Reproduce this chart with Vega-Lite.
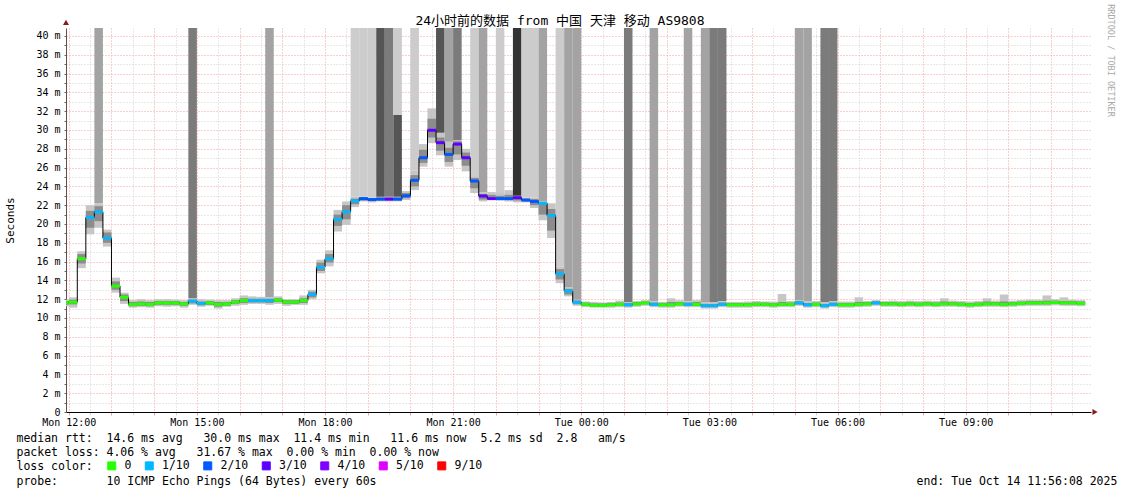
{
"$schema": "https://vega.github.io/schema/vega-lite/v6.json",
"width": 1025, "height": 384,
"autosize": {"type": "none"},
"padding": {"left": 66, "top": 28, "right": 30, "bottom": 82},
"background": "white",
"title": {"text": "24小时前的数据 from 中国 天津 移动 AS9808", "font": "DejaVu Sans Mono, Noto Sans CJK SC", "fontSize": 13, "fontWeight": "normal", "color": "black", "anchor": "middle", "frame": "group", "dx": -18.5, "offset": -34, "baseline": "alphabetic"},
"config": {"view": {"stroke": null}, "font": "DejaVu Sans Mono"},
"datasets": {
"steps": [
{"t":11.8,"t2":12.0,"med":11.6,"loss":"0","lo":11.25,"hi":11.95,"ilo":11.4,"ihi":11.8},
{"t":12.0,"t2":12.2,"med":11.7,"loss":"0","lo":11.1,"hi":12.2,"ilo":11.45,"ihi":11.95},
{"t":12.2,"t2":12.4,"med":16.3,"loss":"0","lo":15.3,"hi":17.1,"ilo":15.8,"ihi":16.8},
{"t":12.4,"t2":12.6,"med":20.7,"loss":"1/10","lo":18.9,"hi":22.0,"ilo":19.6,"ihi":21.4},
{"t":12.6,"t2":12.8,"med":21.3,"loss":"1/10","lo":19.6,"hi":22.2,"ilo":20.3,"ihi":21.9},
{"t":12.8,"t2":13.0,"med":18.5,"loss":"1/10","lo":17.6,"hi":19.4,"ilo":18.0,"ihi":19.1},
{"t":13.0,"t2":13.2,"med":13.4,"loss":"0","lo":12.7,"hi":14.3,"ilo":13.0,"ihi":13.9},
{"t":13.2,"t2":13.4,"med":12.2,"loss":"0","lo":11.5,"hi":12.7,"ilo":11.8,"ihi":12.5},
{"t":13.4,"t2":13.6,"med":11.45,"loss":"0","lo":11.1,"hi":11.9,"ilo":11.25,"ihi":11.7},
{"t":13.6,"t2":13.8,"med":11.5,"loss":"0","lo":11.15,"hi":12.0,"ilo":11.3,"ihi":11.75},
{"t":13.8,"t2":14.0,"med":11.45,"loss":"0","lo":11.1,"hi":11.9,"ilo":11.25,"ihi":11.7},
{"t":14.0,"t2":14.2,"med":11.6,"loss":"0","lo":11.25,"hi":12.0,"ilo":11.4,"ihi":11.8},
{"t":14.2,"t2":14.4,"med":11.6,"loss":"0","lo":11.2,"hi":12.0,"ilo":11.4,"ihi":11.8},
{"t":14.4,"t2":14.6,"med":11.6,"loss":"0","lo":11.25,"hi":11.95,"ilo":11.4,"ihi":11.8},
{"t":14.6,"t2":14.8,"med":11.5,"loss":"0","lo":11.1,"hi":11.9,"ilo":11.3,"ihi":11.7},
{"t":14.8,"t2":15.0,"med":11.8,"loss":"1/10","lo":11.4,"hi":12.1,"ilo":11.55,"ihi":11.95},
{"t":15.0,"t2":15.2,"med":11.55,"loss":"1/10","lo":11.2,"hi":12.0,"ilo":11.35,"ihi":11.75},
{"t":15.2,"t2":15.4,"med":11.6,"loss":"0","lo":11.3,"hi":11.95,"ilo":11.4,"ihi":11.8},
{"t":15.4,"t2":15.6,"med":11.45,"loss":"0","lo":11.0,"hi":11.9,"ilo":11.2,"ihi":11.7},
{"t":15.6,"t2":15.8,"med":11.5,"loss":"0","lo":11.2,"hi":11.9,"ilo":11.3,"ihi":11.7},
{"t":15.8,"t2":16.0,"med":11.7,"loss":"0","lo":11.3,"hi":12.1,"ilo":11.5,"ihi":11.9},
{"t":16.0,"t2":16.2,"med":11.85,"loss":"0","lo":11.4,"hi":12.4,"ilo":11.6,"ihi":12.1},
{"t":16.2,"t2":16.4,"med":11.85,"loss":"1/10","lo":11.5,"hi":12.3,"ilo":11.65,"ihi":12.05},
{"t":16.4,"t2":16.6,"med":11.85,"loss":"1/10","lo":11.5,"hi":12.25,"ilo":11.65,"ihi":12.05},
{"t":16.6,"t2":16.8,"med":11.85,"loss":"1/10","lo":11.4,"hi":12.2,"ilo":11.6,"ihi":12.05},
{"t":16.8,"t2":17.0,"med":11.9,"loss":"0","lo":11.5,"hi":12.3,"ilo":11.7,"ihi":12.1},
{"t":17.0,"t2":17.2,"med":11.7,"loss":"0","lo":11.3,"hi":12.0,"ilo":11.5,"ihi":11.9},
{"t":17.2,"t2":17.4,"med":11.7,"loss":"0","lo":11.4,"hi":12.0,"ilo":11.5,"ihi":11.9},
{"t":17.4,"t2":17.6,"med":11.85,"loss":"0","lo":11.4,"hi":12.4,"ilo":11.6,"ihi":12.1},
{"t":17.6,"t2":17.8,"med":12.5,"loss":"1/10","lo":12.0,"hi":13.0,"ilo":12.2,"ihi":12.8},
{"t":17.8,"t2":18.0,"med":15.4,"loss":"1/10","lo":14.75,"hi":16.2,"ilo":15.0,"ihi":15.9},
{"t":18.0,"t2":18.2,"med":16.3,"loss":"1/10","lo":15.5,"hi":17.2,"ilo":15.9,"ihi":16.8},
{"t":18.2,"t2":18.4,"med":20.5,"loss":"1/10","lo":19.2,"hi":21.5,"ilo":19.8,"ihi":21.0},
{"t":18.4,"t2":18.6,"med":21.3,"loss":"1/10","lo":19.9,"hi":22.4,"ilo":20.5,"ihi":22.0},
{"t":18.6,"t2":18.8,"med":22.45,"loss":"1/10","lo":21.8,"hi":22.9,"ilo":22.1,"ihi":22.7},
{"t":18.8,"t2":19.0,"med":22.7,"loss":"2/10","lo":22.4,"hi":22.9,"ilo":22.5,"ihi":22.85},
{"t":19.0,"t2":19.2,"med":22.6,"loss":"2/10","lo":22.3,"hi":22.8,"ilo":22.45,"ihi":22.75},
{"t":19.2,"t2":19.4,"med":22.65,"loss":"2/10","lo":22.4,"hi":22.9,"ilo":22.5,"ihi":22.8},
{"t":19.4,"t2":19.6,"med":22.65,"loss":"3/10","lo":22.4,"hi":22.9,"ilo":22.5,"ihi":22.8},
{"t":19.6,"t2":19.8,"med":22.65,"loss":"2/10","lo":22.4,"hi":22.9,"ilo":22.5,"ihi":22.8},
{"t":19.8,"t2":20.0,"med":23.0,"loss":"2/10","lo":22.55,"hi":23.5,"ilo":22.75,"ihi":23.3},
{"t":20.0,"t2":20.2,"med":24.65,"loss":"2/10","lo":23.6,"hi":25.7,"ilo":24.0,"ihi":25.2},
{"t":20.2,"t2":20.4,"med":27.05,"loss":"2/10","lo":26.1,"hi":28.5,"ilo":26.5,"ihi":27.9},
{"t":20.4,"t2":20.6,"med":29.97,"loss":"3/10","lo":28.6,"hi":32.3,"ilo":29.2,"ihi":31.2},
{"t":20.6,"t2":20.8,"med":28.65,"loss":"3/10","lo":27.3,"hi":29.7,"ilo":27.8,"ihi":29.2},
{"t":20.8,"t2":21.0,"med":27.4,"loss":"2/10","lo":26.1,"hi":28.75,"ilo":26.6,"ihi":28.1},
{"t":21.0,"t2":21.2,"med":28.5,"loss":"3/10","lo":26.8,"hi":28.9,"ilo":27.4,"ihi":28.8},
{"t":21.2,"t2":21.4,"med":27.05,"loss":"3/10","lo":25.6,"hi":28.0,"ilo":26.2,"ihi":27.6},
{"t":21.4,"t2":21.6,"med":24.57,"loss":"2/10","lo":23.3,"hi":25.1,"ilo":23.8,"ihi":24.9},
{"t":21.6,"t2":21.8,"med":22.98,"loss":"3/10","lo":22.4,"hi":23.4,"ilo":22.6,"ihi":23.2},
{"t":21.8,"t2":22.0,"med":22.7,"loss":"3/10","lo":22.55,"hi":23.4,"ilo":22.6,"ihi":23.1},
{"t":22.0,"t2":22.2,"med":22.7,"loss":"2/10","lo":22.5,"hi":23.3,"ilo":22.6,"ihi":23.0},
{"t":22.2,"t2":22.4,"med":22.7,"loss":"2/10","lo":22.4,"hi":23.6,"ilo":22.55,"ihi":23.1},
{"t":22.4,"t2":22.6,"med":22.8,"loss":"3/10","lo":22.3,"hi":23.0,"ilo":22.5,"ihi":22.95},
{"t":22.6,"t2":22.8,"med":22.55,"loss":"2/10","lo":22.3,"hi":22.8,"ilo":22.4,"ihi":22.7},
{"t":22.8,"t2":23.0,"med":22.4,"loss":"2/10","lo":21.7,"hi":22.8,"ilo":22.0,"ihi":22.65},
{"t":23.0,"t2":23.2,"med":22.2,"loss":"1/10","lo":20.4,"hi":22.4,"ilo":21.0,"ihi":22.3},
{"t":23.2,"t2":23.4,"med":20.9,"loss":"1/10","lo":18.5,"hi":22.2,"ilo":19.3,"ihi":21.6},
{"t":23.4,"t2":23.6,"med":14.7,"loss":"1/10","lo":13.7,"hi":15.5,"ilo":14.1,"ihi":15.2},
{"t":23.6,"t2":23.8,"med":12.87,"loss":"1/10","lo":12.3,"hi":13.3,"ilo":12.5,"ihi":13.1},
{"t":23.8,"t2":24.0,"med":11.67,"loss":"1/10","lo":11.3,"hi":11.95,"ilo":11.45,"ihi":11.85},
{"t":24.0,"t2":24.2,"med":11.45,"loss":"0","lo":11.15,"hi":11.75,"ilo":11.3,"ihi":11.65},
{"t":24.2,"t2":24.4,"med":11.35,"loss":"0","lo":11.1,"hi":11.7,"ilo":11.2,"ihi":11.55},
{"t":24.4,"t2":24.6,"med":11.35,"loss":"0","lo":11.1,"hi":11.65,"ilo":11.2,"ihi":11.55},
{"t":24.6,"t2":24.8,"med":11.4,"loss":"0","lo":11.1,"hi":11.7,"ilo":11.25,"ihi":11.6},
{"t":24.8,"t2":25.0,"med":11.45,"loss":"0","lo":11.15,"hi":11.85,"ilo":11.3,"ihi":11.65},
{"t":25.0,"t2":25.2,"med":11.4,"loss":"1/10","lo":11.1,"hi":11.7,"ilo":11.25,"ihi":11.6},
{"t":25.2,"t2":25.4,"med":11.5,"loss":"0","lo":11.2,"hi":11.8,"ilo":11.35,"ihi":11.7},
{"t":25.4,"t2":25.6,"med":11.6,"loss":"0","lo":11.3,"hi":11.9,"ilo":11.45,"ihi":11.75},
{"t":25.6,"t2":25.8,"med":11.45,"loss":"1/10","lo":11.15,"hi":11.8,"ilo":11.3,"ihi":11.65},
{"t":25.8,"t2":26.0,"med":11.4,"loss":"0","lo":11.1,"hi":11.7,"ilo":11.25,"ihi":11.6},
{"t":26.0,"t2":26.2,"med":11.4,"loss":"0","lo":11.1,"hi":12.1,"ilo":11.25,"ihi":11.7},
{"t":26.2,"t2":26.4,"med":11.5,"loss":"0","lo":11.2,"hi":11.9,"ilo":11.35,"ihi":11.7},
{"t":26.4,"t2":26.6,"med":11.45,"loss":"1/10","lo":11.15,"hi":11.8,"ilo":11.3,"ihi":11.65},
{"t":26.6,"t2":26.8,"med":11.45,"loss":"0","lo":11.15,"hi":11.9,"ilo":11.3,"ihi":11.7},
{"t":26.8,"t2":27.0,"med":11.3,"loss":"1/10","lo":11.0,"hi":11.7,"ilo":11.15,"ihi":11.5},
{"t":27.0,"t2":27.2,"med":11.3,"loss":"1/10","lo":11.0,"hi":11.7,"ilo":11.15,"ihi":11.5},
{"t":27.2,"t2":27.4,"med":11.45,"loss":"1/10","lo":11.15,"hi":11.8,"ilo":11.3,"ihi":11.65},
{"t":27.4,"t2":27.6,"med":11.4,"loss":"0","lo":11.1,"hi":11.7,"ilo":11.25,"ihi":11.6},
{"t":27.6,"t2":27.8,"med":11.4,"loss":"0","lo":11.1,"hi":11.7,"ilo":11.25,"ihi":11.6},
{"t":27.8,"t2":28.0,"med":11.4,"loss":"0","lo":11.1,"hi":11.75,"ilo":11.25,"ihi":11.6},
{"t":28.0,"t2":28.2,"med":11.45,"loss":"0","lo":11.15,"hi":11.8,"ilo":11.3,"ihi":11.65},
{"t":28.2,"t2":28.4,"med":11.45,"loss":"0","lo":11.15,"hi":11.75,"ilo":11.3,"ihi":11.65},
{"t":28.4,"t2":28.6,"med":11.4,"loss":"0","lo":11.1,"hi":11.75,"ilo":11.25,"ihi":11.6},
{"t":28.6,"t2":28.8,"med":11.45,"loss":"0","lo":11.15,"hi":12.55,"ilo":11.3,"ihi":11.7},
{"t":28.8,"t2":29.0,"med":11.45,"loss":"0","lo":11.15,"hi":11.8,"ilo":11.3,"ihi":11.65},
{"t":29.0,"t2":29.2,"med":11.6,"loss":"1/10","lo":11.3,"hi":11.9,"ilo":11.45,"ihi":11.8},
{"t":29.2,"t2":29.4,"med":11.4,"loss":"1/10","lo":11.1,"hi":11.8,"ilo":11.25,"ihi":11.6},
{"t":29.4,"t2":29.6,"med":11.45,"loss":"0","lo":11.15,"hi":11.8,"ilo":11.3,"ihi":11.65},
{"t":29.6,"t2":29.8,"med":11.3,"loss":"1/10","lo":11.0,"hi":11.7,"ilo":11.15,"ihi":11.5},
{"t":29.8,"t2":30.0,"med":11.45,"loss":"1/10","lo":11.15,"hi":11.8,"ilo":11.3,"ihi":11.65},
{"t":30.0,"t2":30.2,"med":11.4,"loss":"0","lo":11.1,"hi":11.75,"ilo":11.25,"ihi":11.6},
{"t":30.2,"t2":30.4,"med":11.4,"loss":"0","lo":11.1,"hi":11.75,"ilo":11.25,"ihi":11.6},
{"t":30.4,"t2":30.6,"med":11.45,"loss":"0","lo":11.15,"hi":12.2,"ilo":11.3,"ihi":11.7},
{"t":30.6,"t2":30.8,"med":11.5,"loss":"0","lo":11.2,"hi":11.8,"ilo":11.35,"ihi":11.7},
{"t":30.8,"t2":31.0,"med":11.6,"loss":"1/10","lo":11.3,"hi":11.9,"ilo":11.45,"ihi":11.8},
{"t":31.0,"t2":31.2,"med":11.5,"loss":"0","lo":11.2,"hi":11.8,"ilo":11.35,"ihi":11.7},
{"t":31.2,"t2":31.4,"med":11.5,"loss":"0","lo":11.2,"hi":11.85,"ilo":11.35,"ihi":11.7},
{"t":31.4,"t2":31.6,"med":11.45,"loss":"0","lo":11.15,"hi":11.8,"ilo":11.3,"ihi":11.65},
{"t":31.6,"t2":31.8,"med":11.5,"loss":"0","lo":11.2,"hi":11.85,"ilo":11.35,"ihi":11.7},
{"t":31.8,"t2":32.0,"med":11.45,"loss":"0","lo":11.15,"hi":11.8,"ilo":11.3,"ihi":11.65},
{"t":32.0,"t2":32.2,"med":11.5,"loss":"0","lo":11.2,"hi":11.85,"ilo":11.35,"ihi":11.7},
{"t":32.2,"t2":32.4,"med":11.45,"loss":"0","lo":11.15,"hi":11.8,"ilo":11.3,"ihi":11.65},
{"t":32.4,"t2":32.6,"med":11.5,"loss":"0","lo":11.2,"hi":12.1,"ilo":11.35,"ihi":11.75},
{"t":32.6,"t2":32.8,"med":11.5,"loss":"0","lo":11.2,"hi":11.85,"ilo":11.35,"ihi":11.7},
{"t":32.8,"t2":33.0,"med":11.45,"loss":"0","lo":11.15,"hi":11.8,"ilo":11.3,"ihi":11.65},
{"t":33.0,"t2":33.2,"med":11.4,"loss":"0","lo":11.1,"hi":11.75,"ilo":11.25,"ihi":11.6},
{"t":33.2,"t2":33.4,"med":11.45,"loss":"0","lo":11.15,"hi":11.8,"ilo":11.3,"ihi":11.65},
{"t":33.4,"t2":33.6,"med":11.5,"loss":"0","lo":11.2,"hi":12.1,"ilo":11.35,"ihi":11.75},
{"t":33.6,"t2":33.8,"med":11.5,"loss":"0","lo":11.2,"hi":11.85,"ilo":11.35,"ihi":11.7},
{"t":33.8,"t2":34.0,"med":11.45,"loss":"0","lo":11.15,"hi":12.5,"ilo":11.3,"ihi":11.75},
{"t":34.0,"t2":34.2,"med":11.5,"loss":"0","lo":11.2,"hi":11.85,"ilo":11.35,"ihi":11.7},
{"t":34.2,"t2":34.4,"med":11.55,"loss":"0","lo":11.25,"hi":11.9,"ilo":11.4,"ihi":11.75},
{"t":34.4,"t2":34.6,"med":11.6,"loss":"0","lo":11.3,"hi":11.95,"ilo":11.45,"ihi":11.8},
{"t":34.6,"t2":34.8,"med":11.6,"loss":"0","lo":11.3,"hi":11.95,"ilo":11.45,"ihi":11.8},
{"t":34.8,"t2":35.0,"med":11.6,"loss":"0","lo":11.3,"hi":12.4,"ilo":11.45,"ihi":11.85},
{"t":35.0,"t2":35.2,"med":11.65,"loss":"0","lo":11.35,"hi":12.0,"ilo":11.5,"ihi":11.85},
{"t":35.2,"t2":35.4,"med":11.6,"loss":"0","lo":11.3,"hi":12.2,"ilo":11.45,"ihi":11.8},
{"t":35.4,"t2":35.6,"med":11.6,"loss":"0","lo":11.3,"hi":11.95,"ilo":11.45,"ihi":11.8},
{"t":35.6,"t2":35.8,"med":11.55,"loss":"0","lo":11.25,"hi":11.9,"ilo":11.4,"ihi":11.75}
],
"spikes": [
{"t":12.6,"t2":12.8,"from":22.2,"to":41,"n":2},
{"t":14.8,"t2":15.0,"from":12.1,"to":41,"n":3},
{"t":16.6,"t2":16.8,"from":12.2,"to":41,"n":2},
{"t":18.6,"t2":18.8,"from":22.9,"to":41,"n":1},
{"t":18.8,"t2":19.0,"from":22.9,"to":41,"n":1},
{"t":19.0,"t2":19.2,"from":22.8,"to":41,"n":1},
{"t":19.2,"t2":19.4,"from":22.9,"to":41,"n":4},
{"t":19.4,"t2":19.6,"from":22.9,"to":41,"n":3},
{"t":19.6,"t2":19.8,"from":22.9,"to":31.6,"n":4},
{"t":19.6,"t2":19.8,"from":31.6,"to":41,"n":1},
{"t":20.0,"t2":20.2,"from":25.7,"to":41,"n":1},
{"t":20.6,"t2":20.8,"from":29.7,"to":41,"n":4},
{"t":20.8,"t2":21.0,"from":28.75,"to":41,"n":2},
{"t":21.0,"t2":21.2,"from":28.9,"to":41,"n":3},
{"t":21.4,"t2":21.6,"from":25.1,"to":41,"n":1},
{"t":21.6,"t2":21.8,"from":23.4,"to":41,"n":2},
{"t":22.0,"t2":22.2,"from":23.3,"to":41,"n":1},
{"t":22.4,"t2":22.6,"from":23.0,"to":41,"n":5},
{"t":22.6,"t2":22.8,"from":22.8,"to":41,"n":1},
{"t":22.8,"t2":23.0,"from":22.8,"to":41,"n":1},
{"t":23.0,"t2":23.2,"from":22.4,"to":41,"n":2},
{"t":23.4,"t2":23.6,"from":15.5,"to":41,"n":1},
{"t":23.6,"t2":23.8,"from":13.3,"to":41,"n":2},
{"t":23.8,"t2":24.0,"from":11.95,"to":41,"n":2},
{"t":25.0,"t2":25.2,"from":11.7,"to":41,"n":3},
{"t":25.6,"t2":25.8,"from":11.8,"to":41,"n":2},
{"t":26.4,"t2":26.6,"from":11.8,"to":41,"n":2},
{"t":26.8,"t2":27.0,"from":11.7,"to":41,"n":2},
{"t":27.0,"t2":27.2,"from":11.7,"to":41,"n":3},
{"t":27.2,"t2":27.4,"from":11.8,"to":41,"n":3},
{"t":29.0,"t2":29.2,"from":11.9,"to":41,"n":2},
{"t":29.2,"t2":29.4,"from":11.8,"to":41,"n":2},
{"t":29.6,"t2":29.8,"from":11.7,"to":41,"n":3},
{"t":29.8,"t2":30.0,"from":11.8,"to":41,"n":3}
],
"arrows": [
{"t":11.9356,"v":41.45,"s":"up"},
{"t":36.03,"v":0,"s":"right"}
]
},
"encoding": {
"x": {"field": "t", "type": "quantitative",
 "scale": {"domain": [11.9356, 35.9356], "nice": false, "zero": false},
 "axis": {
  "values": [12,12.5,13,13.5,14,14.5,15,15.5,16,16.5,17,17.5,18,18.5,19,19.5,20,20.5,21,21.5,22,22.5,23,23.5,24,24.5,25,25.5,26,26.5,27,27.5,28,28.5,29,29.5,30,30.5,31,31.5,32,32.5,33,33.5,34,34.5,35,35.5],
  "labelExpr": "datum.value % 3 === 0 ? ((datum.value < 24 ? 'Mon ' : 'Tue ') + ((datum.value % 24) < 10 ? '0' : '') + (datum.value % 24) + ':00') : ''",
  "labelOverlap": false, "labelBound": false, "labelFlush": false,
  "labelFont": "DejaVu Sans Mono", "labelFontSize": 10, "labelColor": "black", "labelPadding": 2,
  "tickSize": 3,
  "tickColor": {"condition": {"test": "datum.value % 1 === 0", "value": "#f2a0a0"}, "value": "#d4d4d4"},
  "grid": true,
  "gridColor": {"condition": {"test": "datum.value % 1 === 0", "value": "#f2a0a0"}, "value": "#d0d0d0"},
  "gridDash": [1, 2], "gridWidth": 1,
  "domainColor": "black", "domainWidth": 1,
  "title": [
   "median rtt:\u00a0\u00a014.6 ms avg\u00a0\u00a0\u00a030.0 ms max\u00a0\u00a011.4 ms min\u00a0\u00a0\u00a011.6 ms now\u00a0\u00a05.2 ms sd\u00a0\u00a02.8\u00a0\u00a0\u00a0am/s",
   "packet loss:\u00a04.06 % avg\u00a0\u00a0\u00a031.67 % max\u00a0\u00a00.00 % min\u00a0\u00a00.00 % now",
   "loss color:",
   "probe:\u00a0\u00a0\u00a0\u00a0\u00a0\u00a0\u00a010 ICMP Echo Pings (64 Bytes) every 60s\u00a0\u00a0\u00a0\u00a0\u00a0\u00a0\u00a0\u00a0\u00a0\u00a0\u00a0\u00a0\u00a0\u00a0\u00a0\u00a0\u00a0\u00a0\u00a0\u00a0\u00a0\u00a0\u00a0\u00a0\u00a0\u00a0\u00a0\u00a0\u00a0\u00a0\u00a0\u00a0\u00a0\u00a0\u00a0\u00a0\u00a0\u00a0\u00a0\u00a0\u00a0\u00a0\u00a0\u00a0\u00a0\u00a0\u00a0\u00a0\u00a0\u00a0\u00a0\u00a0\u00a0\u00a0\u00a0\u00a0\u00a0\u00a0\u00a0\u00a0\u00a0\u00a0\u00a0\u00a0\u00a0\u00a0\u00a0\u00a0\u00a0\u00a0\u00a0\u00a0\u00a0\u00a0\u00a0\u00a0\u00a0\u00a0end: Tue Oct 14 11:56:08 2025"
  ],
  "titleFont": "DejaVu Sans Mono", "titleFontSize": 11.5, "titleFontWeight": "normal", "titleColor": "black",
  "titleX": -50, "titleY": 29, "titleAlign": "left", "titleAnchor": "start", "titleBaseline": "alphabetic", "titleLineHeight": 14.4
 }
}
},
"resolve": {"axis": {"y": "independent"}},
"layer": [
{
 "data": {"name": "steps"},
 "mark": {"type": "rect", "color": "#c6c6c6", "clip": true},
 "encoding": {
  "x2": {"field": "t2"},
  "y": {"field": "lo", "type": "quantitative", "scale": {"domain": [0, 40.851], "nice": false, "zero": false},
   "axis": {
    "orient": "left",
    "values": [0,1,2,3,4,5,6,7,8,9,10,11,12,13,14,15,16,17,18,19,20,21,22,23,24,25,26,27,28,29,30,31,32,33,34,35,36,37,38,39,40],
    "labelExpr": "datum.value % 2 === 0 ? (datum.value === 0 ? '0' : datum.value + ' m') : ''",
    "labelFont": "DejaVu Sans Mono", "labelFontSize": 10, "labelColor": "black", "labelPadding": 4,
    "labelOverlap": false, "labelBound": false, "labelFlush": false,
    "tickSize": 2, "tickColor": "#666666",
    "grid": true,
    "gridColor": {"condition": {"test": "datum.value % 2 === 0", "value": "#f2a0a0"}, "value": "#d0d0d0"},
    "gridDash": [1, 2], "gridWidth": 1,
    "domainColor": "#6b4a4a",
    "title": "Seconds", "titleFont": "DejaVu Sans Mono", "titleFontSize": 11, "titleFontWeight": "normal", "titleColor": "black",
    "titleAngle": -90, "titleX": -55.5, "titleY": 192, "titleAlign": "center", "titleBaseline": "middle"
   }},
  "y2": {"field": "hi"}
 }
},
{
 "data": {"name": "steps"},
 "mark": {"type": "rect", "color": "#8c8c8c", "clip": true},
 "encoding": {
  "x2": {"field": "t2"},
  "y": {"field": "ilo", "type": "quantitative", "scale": {"domain": [0, 40.851], "nice": false, "zero": false}, "axis": null},
  "y2": {"field": "ihi"}
 }
},
{
 "data": {"name": "spikes"},
 "mark": {"type": "rect", "clip": true},
 "encoding": {
  "x2": {"field": "t2"},
  "y": {"field": "from", "type": "quantitative", "scale": {"domain": [0, 40.851], "nice": false, "zero": false}, "axis": null},
  "y2": {"field": "to"},
  "fill": {"field": "n", "type": "ordinal", "scale": {"domain": [1, 2, 3, 4, 5], "range": ["#cccccc", "#a3a3a3", "#7b7b7b", "#555555", "#333333"]}, "legend": null}
 }
},
{
 "data": {"name": "steps"},
 "mark": {"type": "line", "interpolate": "step-after", "color": "black", "strokeWidth": 1, "clip": true},
 "encoding": {
  "y": {"field": "med", "type": "quantitative", "scale": {"domain": [0, 40.851], "nice": false, "zero": false},
   "axis": {"orient": "right", "title": "RRDTOOL / TOBI OETIKER", "labels": false, "ticks": false, "domain": false, "grid": false,
    "titleAngle": 90, "titleX": 19.5, "titleY": 32, "titleAlign": "center", "titleBaseline": "middle",
    "titleFont": "DejaVu Sans Mono", "titleFontSize": 8.5, "titleFontWeight": "normal", "titleColor": "#a8a8a8"}}
 }
},
{
 "data": {"name": "steps"},
 "mark": {"type": "rule", "strokeWidth": 3, "clip": true},
 "encoding": {
  "x2": {"field": "t2"},
  "y": {"field": "med", "type": "quantitative", "scale": {"domain": [0, 40.851], "nice": false, "zero": false}, "axis": null},
  "color": {"field": "loss", "type": "nominal",
   "scale": {"domain": ["0", "1/10", "2/10", "3/10", "4/10", "5/10", "9/10"], "range": ["#26ff00", "#00b8ff", "#0059ff", "#5e00ff", "#7e00ff", "#dd00ff", "#ff0000"]},
   "legend": {
    "orient": "none", "legendX": 40, "legendY": 432, "direction": "horizontal", "title": null,
    "padding": 0, "columnPadding": 10.5, "labelOffset": 7, "symbolSize": 64, "symbolType": "square",
    "symbolStrokeColor": "black", "symbolStrokeWidth": 1,
    "labelFont": "DejaVu Sans Mono", "labelFontSize": 11.5, "labelColor": "black",
    "encode": {"symbols": {"update": {"fill": {"scale": "color", "field": "value"}, "stroke": {"value": "black"}, "strokeWidth": {"value": 1}, "shape": {"value": "square"}, "opacity": {"value": 1}, "size": {"value": 64}}}}
   }}
 }
},
{
 "data": {"name": "arrows"},
 "mark": {"type": "point", "filled": true, "color": "#8b1a1a", "size": 36, "opacity": 1, "clip": false},
 "encoding": {
  "y": {"field": "v", "type": "quantitative", "scale": {"domain": [0, 40.851], "nice": false, "zero": false}, "axis": null},
  "shape": {"field": "s", "type": "nominal", "scale": {"domain": ["up", "right"], "range": ["triangle-up", "triangle-right"]}, "legend": null}
 }
}
]
}
